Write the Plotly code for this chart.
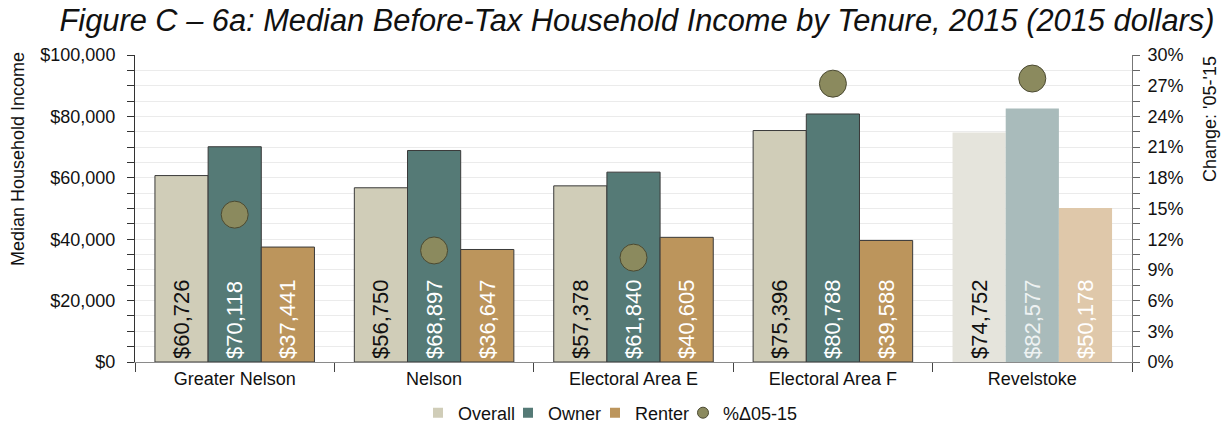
import plotly.graph_objects as go

# Median before-tax household income by tenure, 2015 (2015 dollars)
regions = ["Greater Nelson", "Nelson", "Electoral Area E", "Electoral Area F", "Revelstoke"]
overall = [60726, 56750, 57378, 75396, 74752]
owner = [70118, 68897, 61840, 80788, 82577]
renter = [37441, 36647, 40605, 39588, 50178]
change_05_15 = [14.4, 10.9, 10.2, 27.2, 27.7]  # % change in overall median, 2005-2015

FONT = "Liberation Sans, Arial, sans-serif"
W, H = 1226, 425
ML, MR, MT, MB = 135, 94, 55, 63
PW, PH = W - ML - MR, H - MT - MB

# Revelstoke is shown in lighter tones without an outline
overall_colors = ["#d0cdb8"] * 4 + ["#e5e4dc"]
owner_colors = ["#557a76"] * 4 + ["#a9bbbb"]
renter_colors = ["#bc955c"] * 4 + ["#dfc8aa"]
outline_widths = [1] * 4 + [0]
DOT_COLOR = "#8b8a5e"


def money(values):
    return [f"${v:,}" for v in values]


def px_x(px):
    """Pixel column -> paper x."""
    return (px - ML) / PW


def px_y(px):
    """Pixel row (from top) -> paper y."""
    return (H - MB - px) / PH


fig = go.Figure()


def add_bars(name, values, colors, text_colors):
    fig.add_trace(go.Bar(
        name=name,
        x=regions,
        y=values,
        text=money(values),
        textposition="inside",
        insidetextanchor="start",
        textangle=-90,
        textfont=dict(family=FONT, size=22, color=text_colors),
        constraintext="none",
        marker=dict(color=colors, line=dict(color="#3a3a3a", width=outline_widths)),
        hoverinfo="x+y",
        showlegend=False,
    ))


add_bars("Overall", overall, overall_colors, ["#111111"] * 5)
add_bars("Owner", owner, owner_colors, ["#ffffff"] * 4 + ["#eef2f2"])
add_bars("Renter", renter, renter_colors, ["#ffffff"] * 5)

fig.add_trace(go.Scatter(
    name="%\u039405-15",
    x=regions,
    y=change_05_15,
    yaxis="y2",
    mode="markers",
    marker=dict(size=27, color=DOT_COLOR, line=dict(color="#4b4a32", width=1)),
    hoverinfo="x+y",
    showlegend=False,
))

# Legend keys: small squares for the bar series, a small dot for the change series.
# Each key sits in its own legend so the row can be spaced compactly.
legend_keys = [
    ("Overall", "square", overall_colors[0], 10, 453),
    ("Owner", "square", owner_colors[0], 10, 543),
    ("Renter", "square", renter_colors[0], 10, 630),
    ("%\u039405-15", "circle", DOT_COLOR, 11, 718),
]
legend_layouts = {}
for i, (name, symbol, color, size, text_left) in enumerate(legend_keys):
    lg = "legend" if i == 0 else f"legend{i + 1}"
    fig.add_trace(go.Scatter(
        name=name,
        x=[None],
        y=[None],
        mode="markers",
        marker=dict(symbol=symbol, size=size, color=color,
                    line=dict(color="#4b4a32", width=1 if symbol == "circle" else 0)),
        showlegend=True,
        legend=lg,
        hoverinfo="skip",
    ))
    legend_layouts[lg] = dict(
        orientation="h",
        xref="container",
        yref="container",
        x=(text_left - 35) / W,
        xanchor="left",
        y=12 / H,
        yanchor="middle",
        font=dict(family=FONT, size=18, color="#111111"),
        itemwidth=30,
        bgcolor="rgba(0,0,0,0)",
        borderwidth=0,
    )

fig.update_layout(
    width=W,
    height=H,
    margin=dict(l=ML, r=MR, t=MT, b=MB, autoexpand=False),
    paper_bgcolor="white",
    plot_bgcolor="white",
    barmode="group",
    bargap=0.2,
    bargroupgap=0,
    font=dict(family=FONT, size=18, color="#111111"),
    title=dict(
        text="<i>Figure C \u2013 6a: Median Before-Tax Household Income by Tenure, 2015 (2015 dollars)</i>",
        x=637 / W,
        xanchor="center",
        y=1 - 20 / H,
        yanchor="middle",
        font=dict(family=FONT, size=30.8, color="#111111"),
    ),
    xaxis=dict(
        type="category",
        tickson="boundaries",
        ticks="outside",
        ticklen=9,
        tickcolor="#444444",
        showline=True,
        linecolor="#8a8a8a",
        linewidth=1,
        showgrid=False,
        automargin=False,
        tickfont=dict(family=FONT, size=18, color="#111111"),
    ),
    yaxis=dict(
        range=[0, 100000],
        dtick=20000,
        tickformat="$,.0f",
        ticks="outside",
        ticklen=7,
        tickcolor="#333333",
        ticklabelstandoff=8,
        showline=True,
        linecolor="#333333",
        showgrid=True,
        gridcolor="#ebebeb",
        zeroline=False,
        automargin=False,
        minor=dict(dtick=5000, ticks="outside", ticklen=7, tickcolor="#333333",
                   showgrid=True, gridcolor="#ebebeb"),
        tickfont=dict(family=FONT, size=18, color="#111111"),
    ),
    yaxis2=dict(
        overlaying="y",
        side="right",
        range=[0, 30],
        dtick=3,
        ticksuffix="%",
        ticks="outside",
        ticklen=7,
        tickcolor="#666666",
        ticklabelstandoff=4,
        showline=True,
        linecolor="#777777",
        showgrid=False,
        zeroline=False,
        automargin=False,
        minor=dict(dtick=1.5, ticks="outside", ticklen=7, tickcolor="#666666"),
        tickfont=dict(family=FONT, size=18, color="#111111"),
    ),
    annotations=[
        # Axis titles, aligned toward the top of the plot
        dict(text="Median Household Income", textangle=-90, showarrow=False,
             xref="paper", yref="paper", x=px_x(18), y=px_y(50),
             xanchor="center", yanchor="top",
             font=dict(family=FONT, size=18, color="#111111")),
        dict(text="Change: '05-'15", textangle=-90, showarrow=False,
             xref="paper", yref="paper", x=px_x(1210), y=px_y(54),
             xanchor="center", yanchor="top",
             font=dict(family=FONT, size=18, color="#111111")),
    ],
    **legend_layouts,
)

fig.write_html("out.html")
